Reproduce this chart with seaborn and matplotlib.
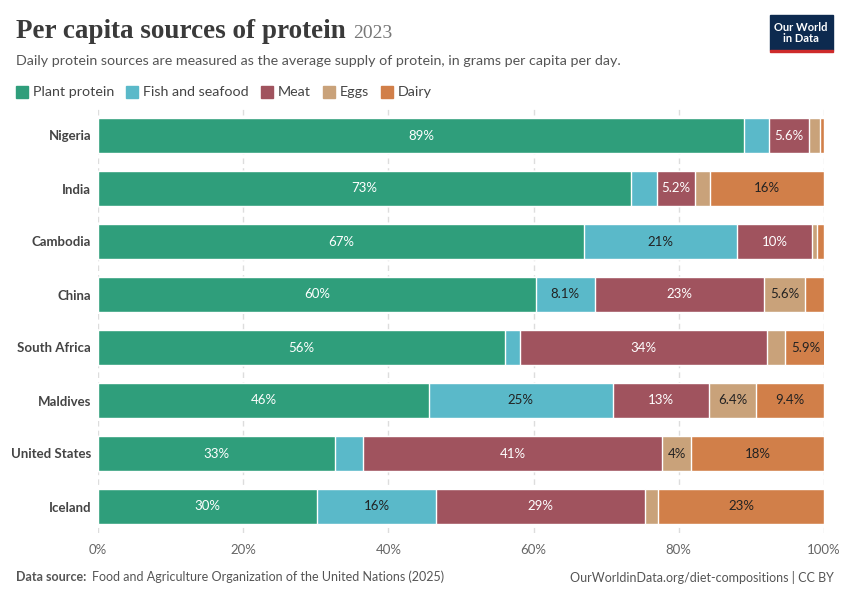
import numpy as np
import pandas as pd
import seaborn as sns
import matplotlib.pyplot as plt
from matplotlib.patches import Rectangle

countries = ['Nigeria', 'India', 'Cambodia', 'China', 'South Africa', 'Maldives', 'United States', 'Iceland']
plant = [89.0, 73.4, 66.9, 60.3, 56.1, 45.6, 32.6, 30.2]
fish = [3.4, 3.6, 21.1, 8.1, 2.0, 25.3, 3.9, 16.4]
meat = [5.6, 5.2, 10.4, 23.4, 34.0, 13.3, 41.2, 28.7]
eggs = [1.5, 2.1, 0.6, 5.6, 2.5, 6.4, 4.0, 1.9]
dairy = [0.5, 15.7, 1.0, 2.6, 5.9, 9.4, 18.3, 22.8]

series_names = ['Plant protein', 'Fish and seafood', 'Meat', 'Eggs', 'Dairy']
series = [plant, fish, meat, eggs, dairy]
colors = ['#2f9e7b', '#5ab9c9', '#a0535e', '#c9a27a', '#d17f49']
text_colors = ['white', '#222222', 'white', '#222222', '#222222']

sns.set_theme(style='white')
plt.rcParams['font.family'] = ['Lato', 'DejaVu Sans']

df = pd.DataFrame({'country': countries})
cum = np.zeros(len(countries))
cums = []
for s in series:
    cum = cum + np.array(s)
    cums.append(cum.copy())

fig = plt.figure(figsize=(8.5, 6), dpi=100)
ax = fig.add_axes([98 / 850, 1 - 533 / 600, 726 / 850, 424 / 600])

# stacked bars: draw cumulative totals from the back
for i in range(len(series) - 1, -1, -1):
    df['v'] = cums[i]
    sns.barplot(data=df, x='v', y='country', orient='h', color=colors[i],
                width=0.66, ax=ax, saturation=1, zorder=2)

for j in range(len(countries)):
    left = 0
    for i, s in enumerate(series):
        v = s[j]
        if v >= 4.0:
            txt = f"{v:.0f}%" if v >= 9.95 else f"{v:.1f}%".replace('.0%', '%')
            ax.text(left + v / 2, j, txt, ha='center', va='center',
                    color=text_colors[i], fontsize=9.5, zorder=3)
        left += v

ax.set_xlim(0, 100)
ax.set_ylim(7.5, -0.5)
ax.set_xticks([0, 20, 40, 60, 80, 100])
ax.set_xticklabels(['0%', '20%', '40%', '60%', '80%', '100%'], color='#666666', fontsize=9.5)
ax.set_xlabel('')
ax.set_ylabel('')
ax.tick_params(axis='y', length=0, pad=5)
ax.tick_params(axis='x', length=0, pad=8)
for lab in ax.get_yticklabels():
    lab.set_fontweight('bold')
    lab.set_color('#444444')
    lab.set_fontsize(9.5)
ax.grid(axis='x', linestyle=(0, (4, 3)), color='#dddddd', zorder=0)
sns.despine(ax=ax, left=True, bottom=True)

title = fig.text(16 / 850, 1 - 32 / 600, 'Per capita sources of protein', family=['Liberation Serif', 'DejaVu Serif'],
                 fontsize=19.5, fontweight='bold', color='#3a3a3a', va='center')
fig.canvas.draw()
tx = title.get_window_extent().x1
fig.text((tx + 7) / 850, 1 - 34 / 600, '2023', family=['Liberation Serif', 'DejaVu Serif'],
         fontsize=14, color='#777777', va='center')
fig.text(16 / 850, 1 - 61 / 600, 'Daily protein sources are measured as the average supply of protein, in grams per capita per day.',
         fontsize=10.3, color='#555555', va='center')

x = 16
for name, c in zip(series_names, colors):
    fig.patches.append(Rectangle((x / 850, 1 - 98 / 600), 12 / 850, 12 / 600, color=c, transform=fig.transFigure))
    t = fig.text((x + 17) / 850, 1 - 92 / 600, name, fontsize=10.3, color='#444444', va='center')
    fig.canvas.draw()
    w = t.get_window_extent().width
    x += 17 + w + 12

fig.patches.append(Rectangle((770 / 850, 1 - 50 / 600), 63 / 850, 35 / 600, color='#0d2a4f', transform=fig.transFigure))
fig.patches.append(Rectangle((770 / 850, 1 - 52 / 600), 63 / 850, 2.5 / 600, color='#ce2a2a', transform=fig.transFigure))
fig.text(801 / 850, 1 - 33 / 600, 'Our World\nin Data', ha='center', va='center', color='white',
         fontsize=8, fontweight='bold', linespacing=1.1)

fig.text(16 / 850, 1 - 577 / 600, 'Data source:', fontsize=9, fontweight='bold', color='#555555', va='center')
fig.text(92 / 850, 1 - 577 / 600, 'Food and Agriculture Organization of the United Nations (2025)', fontsize=9,
         color='#555555', va='center')
fig.text(834 / 850, 1 - 577 / 600, 'OurWorldinData.org/diet-compositions | CC BY', fontsize=9,
         color='#555555', va='center', ha='right')

fig.savefig('out.png', dpi=100)
